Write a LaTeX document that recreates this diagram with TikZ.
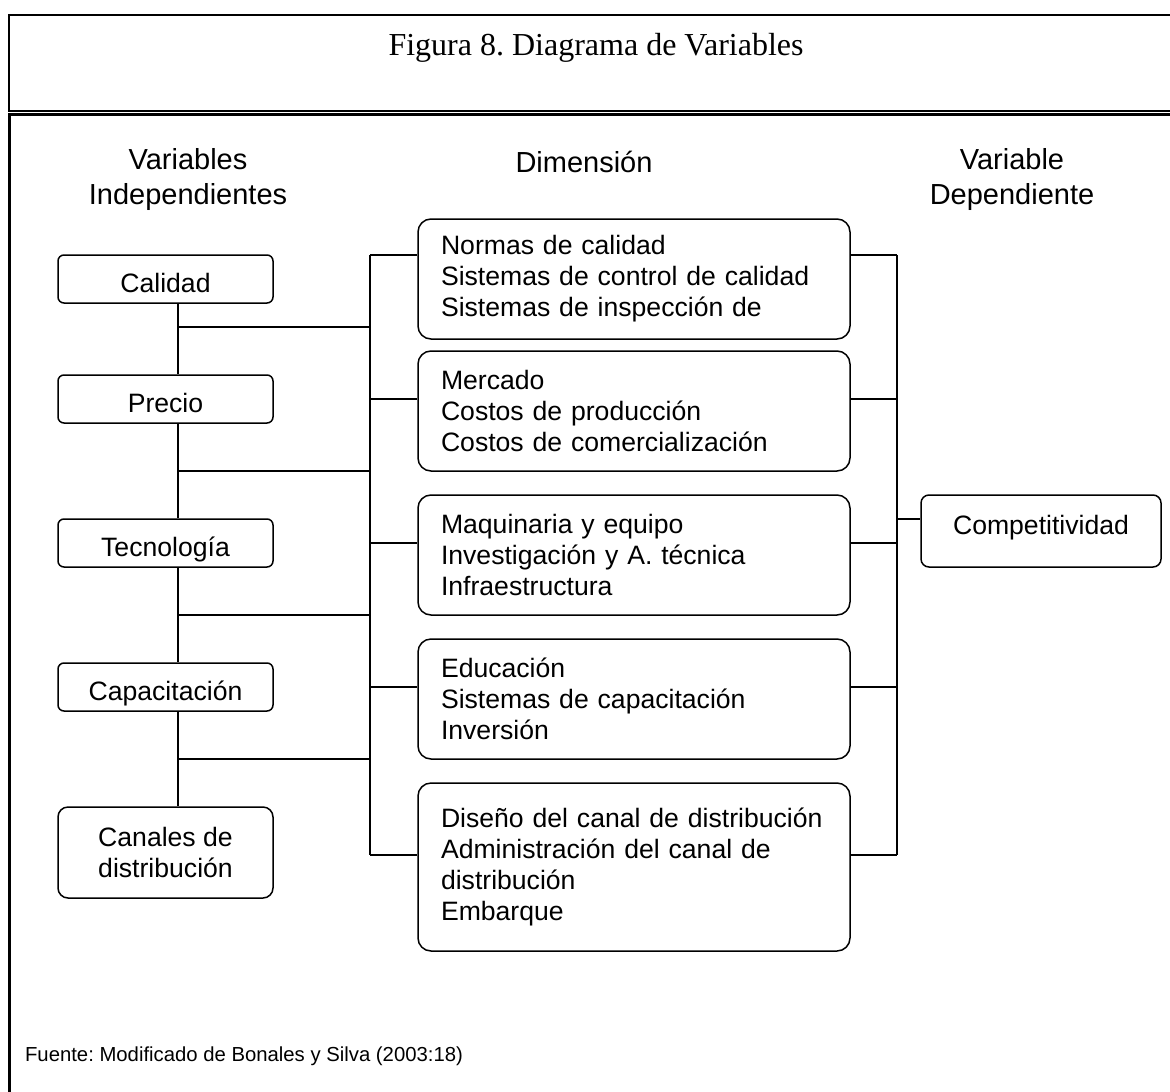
\documentclass[tikz,border=0pt]{standalone}
\usepackage{fontspec}
\setmainfont{Liberation Sans}
\newfontfamily\titlefont{Liberation Serif}
\frenchspacing
\usetikzlibrary{positioning}

\tikzset{
  wire/.style={line width=0.75pt},
  frameline/.style={line width=1pt},
  indep/.style={draw, line width=0.75pt, rounded corners=3pt, minimum width=107.5pt,
    minimum height=24pt, inner sep=0pt, align=center, font=\fontsize{13.3}{15.5}\selectfont},
  oneline/.style={text height=13.7pt, text depth=0pt},
  dimbox/.style={draw, line width=0.75pt, rounded corners=6.5pt, text width=193pt,
    inner xsep=11.5pt, inner ysep=0pt, minimum height=60pt, align=left,
    font=\fontsize{13.3}{15.5}\selectfont},
  header/.style={align=center, font=\fontsize{14.5}{17.5}\selectfont},
}

\begin{document}
\begin{tikzpicture}[x=0.5pt, y=-0.5pt]
        \useasboundingbox (0,0) rectangle (1170,1091);
        \clip (0,0) rectangle (1170,1091);

        % Frame and title
        \draw[frameline] (1180,15) -- (9,15) -- (9,111) -- (1180,111);
        \draw[line width=1.5pt] (9,1100) -- (9,114.5) -- (1180,114.5);
        \node[font=\titlefont\fontsize{16}{19}\selectfont] (title) at (596,48) {Figura 8. Diagrama de Variables};

        % Column headers
        \node[header] (hind) at (188,180) {Variables\\Independientes};
        \node[header] (hdim) at (584,162) {Dimensión};
        \node[header] (hdep) at (1012,180) {Variable\\Dependiente};

        % Independent variables
        \node[indep, oneline] (cal) at (165.5,279) {Calidad};
        \node[indep, oneline] (pre) at (165.5,399) {Precio};
        \node[indep, oneline] (tec) at (165.5,543) {Tecnología};
        \node[indep, oneline] (cap) at (165.5,687) {Capacitación};
        \node[indep, minimum height=45.5pt, rounded corners=5pt] (can) at (165.5,852.5) {Canales de\\distribución};

        % Dimensions
        \node[dimbox] (dim1) at (634,279) {Normas de calidad\\Sistemas de control de calidad\\Sistemas de inspección de};
        \node[dimbox] (dim2) at (634,411) {Mercado\\Costos de producción\\Costos de comercialización};
        \node[dimbox] (dim3) at (634,555) {Maquinaria y equipo\\Investigación y A. técnica\\Infraestructura};
        \node[dimbox] (dim4) at (634,699) {Educación\\Sistemas de capacitación\\Inversión};
        \node[dimbox, minimum height=84pt] (dim5) at (634,867) {Diseño del canal de distribución\\Administración del canal de\\distribución\\Embarque};

        % Dependent variable
        \node[draw, line width=0.75pt, rounded corners=4pt, minimum width=120pt, minimum height=36pt,
          text depth=6pt, font=\fontsize{13.3}{15.5}\selectfont] (comp) at (1041,531) {Competitividad};

        % Trunk on the left
        \coordinate (tk1) at (178,327);
        \coordinate (tk2) at (178,471);
        \coordinate (tk3) at (178,615);
        \coordinate (tk4) at (178,759);
        \draw[wire] (cal.south -| tk1) -- (pre.north -| tk1);
        \draw[wire] (pre.south -| tk1) -- (tec.north -| tk1);
        \draw[wire] (tec.south -| tk1) -- (cap.north -| tk1);
        \draw[wire] (cap.south -| tk1) -- (can.north -| tk1);

        % Buses and stubs
        \foreach \i/\y in {1/255,2/399,3/543,4/687,5/855} {
          \coordinate (lb\i) at (370,\y);
          \coordinate (rb\i) at (897,\y);
          \draw[wire] (lb\i) -- (lb\i -| dim\i.west);
          \draw[wire] (rb\i -| dim\i.east) -- (rb\i);
        }
        \draw[wire] (lb1) -- (lb5);
        \draw[wire] (rb1) -- (rb5);
        \foreach \i in {1,...,4}
          \draw[wire] (tk\i) -- (tk\i -| lb1);

        \coordinate (rbc) at (897,519);
        \draw[wire] (rbc) -- (rbc -| comp.west);

        % Source
        \node[anchor=west, font=\fontsize{10.15}{12}\selectfont] (src) at (18,1056) {Fuente: Modificado de Bonales y Silva (2003:18)};
    \end{tikzpicture}
\end{document}
